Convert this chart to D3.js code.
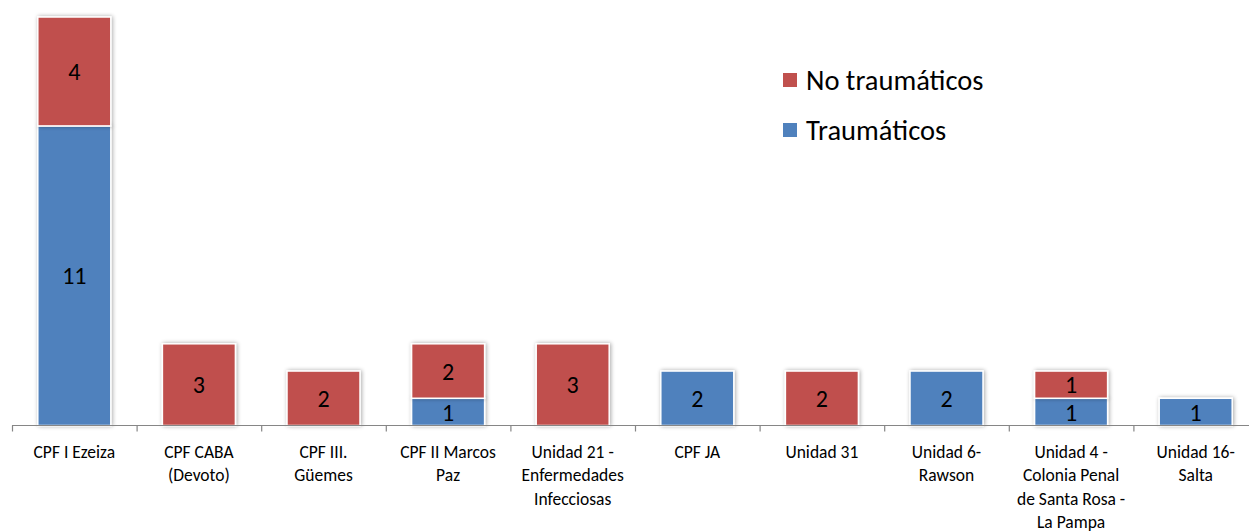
<!DOCTYPE html>
<html>
<head>
<meta charset="utf-8">
<script src="https://cdn.jsdelivr.net/npm/d3@7"></script>
<style>
  body { margin: 0; background: #fff; }
  svg { display: block; font-family: Carlito, "Open Sans", "Liberation Sans", sans-serif; }
</style>
</head>
<body>
<div id="chart"></div>
<script>
// categories and series
const categories = [
    ["CPF I Ezeiza"],
    ["CPF CABA", "(Devoto)"],
    ["CPF III.", "Güemes"],
    ["CPF II Marcos", "Paz"],
    ["Unidad 21 -", "Enfermedades", "Infecciosas"],
    ["CPF JA"],
    ["Unidad 31"],
    ["Unidad 6-", "Rawson"],
    ["Unidad 4 -", "Colonia Penal", "de Santa Rosa -", "La Pampa"],
    ["Unidad 16-", "Salta"]
];
const traumaticos = [11, 0, 0, 1, 0, 2, 0, 2, 1, 1];
const noTraumaticos = [4, 3, 2, 2, 3, 0, 2, 0, 1, 0];
const seriesNames = ["Traumáticos", "No traumáticos"];
const seriesColors = ["#4f81bd", "#c0504d"];

const width = 1249, height = 532;
const x0 = 12, bandW = 124.6;
const baseY = 425.5;

const svg = d3.select("#chart").append("svg")
    .attr("width", width)
    .attr("height", height);

const defs = svg.append("defs");
const f = defs.append("filter").attr("id", "shadow")
    .attr("x", "-20%").attr("y", "-20%").attr("width", "140%").attr("height", "140%");
f.append("feGaussianBlur").attr("in", "SourceAlpha").attr("stdDeviation", 2.2).attr("result", "b");
f.append("feOffset").attr("in", "b").attr("dx", 1).attr("dy", 0).attr("result", "o");
f.append("feComponentTransfer").attr("in", "o").attr("result", "s")
  .append("feFuncA").attr("type", "linear").attr("slope", 0.35);
const fm = f.append("feMerge");
fm.append("feMergeNode").attr("in", "s");
fm.append("feMergeNode").attr("in", "SourceGraphic");

const x = d3.scaleBand()
    .domain(d3.range(categories.length))
    .range([x0, x0 + bandW * categories.length])
    .paddingInner(0.414)
    .paddingOuter(0.207);

const y = d3.scaleLinear()
    .domain([0, 15])
    .range([baseY, 17]);

const table = categories.map((c, i) => ({ i, t: traumaticos[i], n: noTraumaticos[i] }));
const stacked = d3.stack().keys(["t", "n"])(table);

const g = svg.append("g");

stacked.forEach((layer, si) => {
    const grp = g.append("g");
    const segs = layer.filter(d => d[1] - d[0] > 0);
    grp.selectAll("rect")
        .data(segs)
        .join("rect")
        .attr("x", d => x(d.data.i))
        .attr("y", d => y(d[1]))
        .attr("width", x.bandwidth())
        .attr("height", d => y(d[0]) - y(d[1]))
        .attr("fill", seriesColors[si])
        .attr("stroke", "#fff")
        .attr("stroke-width", 1.5)
        .attr("filter", "url(#shadow)");
    grp.selectAll("text")
        .data(segs)
        .join("text")
        .attr("x", d => x(d.data.i) + x.bandwidth() / 2)
        .attr("y", d => (y(d[0]) + y(d[1])) / 2)
        .attr("dy", "0.36em")
        .attr("text-anchor", "middle")
        .attr("font-size", 24)
        .attr("fill", "#000")
        .text(d => d[1] - d[0]);
});

// axis
const ax = svg.append("g").attr("stroke", "#868686").attr("stroke-width", 1.2);
ax.append("line")
    .attr("x1", x0).attr("x2", width)
    .attr("y1", baseY).attr("y2", baseY);
ax.selectAll(".tick")
    .data(d3.range(categories.length))
    .join("line")
    .attr("x1", i => x(i) - x.step() * x.paddingInner() / 2 + 0.5)
    .attr("x2", i => x(i) - x.step() * x.paddingInner() / 2 + 0.5)
    .attr("y1", baseY).attr("y2", baseY + 6);

// category labels
const lab = svg.append("g");
categories.forEach((lines, i) => {
    const t = lab.append("text")
        .attr("text-anchor", "middle")
        .attr("font-size", 17.5)
        .attr("fill", "#000");
    lines.forEach((s, k) => {
        t.append("tspan")
            .attr("x", x(i) + x.bandwidth() / 2)
            .attr("y", 457.5 + k * 23.5)
            .text(s);
    });
});

// legend
const legend = svg.append("g");
[1, 0].forEach((si, k) => {
    const ly = 80 + k * 50;
    legend.append("rect")
        .attr("x", 783).attr("y", ly - 7)
        .attr("width", 14).attr("height", 14)
        .attr("fill", seriesColors[si]);
    legend.append("text")
        .attr("x", 806).attr("y", ly)
        .attr("dy", "0.35em")
        .attr("font-size", 28.5)
        .attr("fill", "#000")
        .text(seriesNames[si]);
});
</script>
</body>
</html>
